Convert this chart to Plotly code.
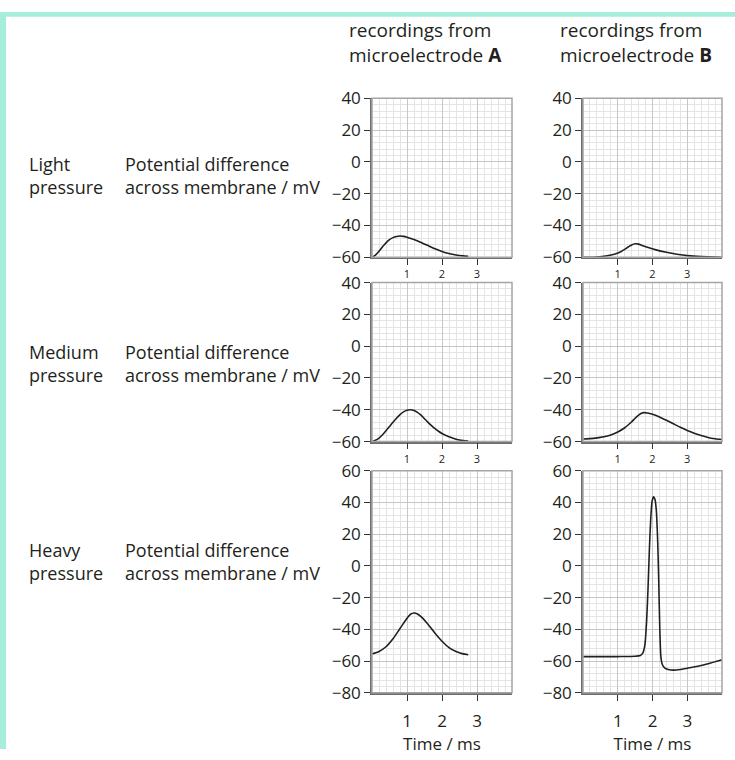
import plotly.graph_objects as go

W, H = 735, 760

# ---- data ----
a1_x = [0, 0.1, 0.2, 0.3, 0.4, 0.5, 0.6, 0.7, 0.8, 0.9, 1.0, 1.2, 1.4, 1.6, 1.8, 2.0, 2.2, 2.4, 2.6, 2.75]
a1_y = [-60, -58.6, -56.2, -53.4, -50.9, -48.9, -47.6, -46.9, -46.6, -46.8, -47.3, -48.8, -50.6, -52.6, -54.6, -56.3, -57.6, -58.5, -59.1, -59.4]

b1_x = [0, 0.4, 0.7, 0.9, 1.1, 1.3, 1.4, 1.5, 1.6, 1.7, 1.9, 2.1, 2.4, 2.7, 3.0, 3.4, 4.0]
b1_y = [-60, -59.8, -59, -58, -56.3, -53.5, -52.2, -51.5, -51.7, -52.5, -54.0, -55.3, -56.8, -58.0, -58.9, -59.5, -59.9]

a2_x = [0, 0.1, 0.2, 0.3, 0.4, 0.5, 0.6, 0.7, 0.8, 0.9, 1.0, 1.1, 1.2, 1.3, 1.4, 1.5, 1.6, 1.7, 1.8, 1.9, 2.0, 2.2, 2.4, 2.6, 2.75]
a2_y = [-60, -59.2, -57.8, -55.7, -53.2, -50.5, -47.8, -45.3, -43.0, -41.3, -40.3, -40.0, -40.4, -41.6, -43.4, -45.6, -47.9, -50.0, -51.9, -53.5, -54.9, -57.0, -58.5, -59.4, -59.7]

b2_x = [0, 0.3, 0.6, 0.8, 1.0, 1.2, 1.4, 1.5, 1.6, 1.7, 1.75, 1.85, 2.0, 2.2, 2.4, 2.6, 2.8, 3.0, 3.2, 3.4, 3.6, 3.8, 4.0]
b2_y = [-58.4, -58.0, -57.0, -55.8, -54.0, -51.3, -47.5, -45.3, -43.3, -42.0, -41.8, -42.0, -42.8, -44.5, -46.6, -48.8, -51.0, -53.0, -54.7, -56.2, -57.4, -58.2, -58.7]

a3_x = [0, 0.2, 0.4, 0.6, 0.8, 1.0, 1.1, 1.2, 1.3, 1.4, 1.6, 1.8, 2.0, 2.2, 2.4, 2.6, 2.75]
a3_y = [-55.5, -54.0, -51.0, -46.0, -39.5, -33.0, -30.5, -29.7, -30.3, -32.0, -36.8, -42.5, -47.5, -51.5, -54.0, -55.5, -56.0]

b3_x = [0, 1.0, 1.5, 1.65, 1.72, 1.78, 1.83, 1.87, 1.91, 1.95, 1.99, 2.03, 2.07, 2.11, 2.15, 2.18, 2.21, 2.24, 2.28, 2.35, 2.45, 2.6, 2.8, 3.0, 3.3, 3.6, 4.0]
b3_y = [-57.2, -57.2, -57.0, -56.5, -55, -50, -35, -15, 10, 30, 41, 43.5, 42, 35, 15, -10, -40, -57, -62, -64.3, -65.3, -65.7, -65.3, -64.5, -63.3, -61.7, -59.2]

x_ticks = [1, 2, 3]
y_ticks_small = [-60, -40, -20, 0, 20, 40]
y_ticks_large = [-80, -60, -40, -20, 0, 20, 40, 60]
row_names = ["Light<br>pressure", "Medium<br>pressure", "Heavy<br>pressure"]
ylab = "Potential difference<br>across membrane / mV"
headers = ["recordings from<br>microelectrode <b>A</b>", "recordings from<br>microelectrode <b>B</b>"]

series = [(a1_x, a1_y), (b1_x, b1_y), (a2_x, a2_y), (b2_x, b2_y), (a3_x, a3_y), (b3_x, b3_y)]

# ---- layout geometry (pixels) ----
cols = [(372, 512), (583, 722)]
rows = [(89, 253, [-60, 40]), (279, 443, [-60, 40]), (473, 702, [-80, 60])]

FONT = "Open Sans"
TXT = "#231f20"

def px2x(p):
    return p / W

def px2y(p):
    return 1 - p / H

fig = go.Figure()
layout = {}
shapes = []
ann = []

k = 0
for r, (yt, yb, yr) in enumerate(rows):
    for c, (xl, xr) in enumerate(cols):
        k += 1
        xs, ys = series[k - 1]
        xa = "x" if k == 1 else f"x{k}"
        ya = "y" if k == 1 else f"y{k}"
        fig.add_trace(go.Scatter(x=xs, y=ys, xaxis=xa, yaxis=ya, mode="lines",
                                 line=dict(color="#231f20", width=1.6, shape="spline", smoothing=0.6),
                                 showlegend=False, hoverinfo="skip"))
        last = (r == 2)
        xkey = "xaxis" if k == 1 else f"xaxis{k}"
        ykey = "yaxis" if k == 1 else f"yaxis{k}"
        layout[xkey] = dict(
            domain=[px2x(xl), px2x(xr)], anchor=ya, range=[0, 4],
            tickmode="array", tickvals=x_ticks, ticktext=[str(v) for v in x_ticks],
            ticks="outside", ticklen=6, tickwidth=1.2, tickcolor="#333",
            ticklabelstandoff=6 if last else 0,
            tickfont=dict(family=FONT, size=17 if last else 11, color=TXT),
            showgrid=True, gridcolor="#c6c6c6", gridwidth=1.2,
            minor=dict(tickmode="linear", tick0=0, dtick=0.2, showgrid=True, gridcolor="#e4e4e4", gridwidth=1, ticks=""),
            showline=True, linecolor="#6e6e6e", linewidth=1.5,
            zeroline=False, fixedrange=True,
            title=dict(text="Time / ms", font=dict(family=FONT, size=17, color=TXT), standoff=0) if last else None,
        )
        yt_vals = y_ticks_large if last else y_ticks_small
        layout[ykey] = dict(
            domain=[px2y(yb), px2y(yt)], anchor=xa, range=yr,
            tickmode="array", tickvals=yt_vals,
            ticks="outside", ticklen=6, tickwidth=1.2, tickcolor="#333",
            tickfont=dict(family=FONT, size=17, color=TXT),
            showgrid=True, gridcolor="#c6c6c6", gridwidth=1.2,
            minor=dict(tickmode="linear", tick0=0, dtick=4, showgrid=True, gridcolor="#e4e4e4", gridwidth=1, ticks=""),
            showline=True, linecolor="#6e6e6e", linewidth=1.5,
            zeroline=False, fixedrange=True,
        )
        shapes.append(dict(type="rect", xref="paper", yref="paper",
                           x0=px2x(xl), x1=px2x(xr), y0=px2y(yb), y1=px2y(yt),
                           line=dict(color="#a5a5a5", width=1.5), layer="above"))

# row labels
row_centers = [169, 362, 567]
for name, cy in zip(row_names, row_centers):
    for txt, x0 in [(name, 27), (ylab, 123)]:
        ann.append(dict(text=txt, x=px2x(x0), y=px2y(cy), xref="paper", yref="paper",
                        xanchor="left", yanchor="middle", align="left", showarrow=False,
                        font=dict(family=FONT, size=18, color=TXT)))

# column headers
for txt, x0 in zip(headers, [347, 558]):
    ann.append(dict(text=txt, x=px2x(x0), y=px2y(31), xref="paper", yref="paper",
                    xanchor="left", yanchor="middle", align="left", showarrow=False,
                    font=dict(family=FONT, size=19, color=TXT)))

# teal frame on left and top
shapes.append(dict(type="rect", xref="paper", yref="paper", x0=0, x1=px2x(6), y0=0, y1=1,
                   fillcolor="#a6eed9", line=dict(width=0), layer="below"))
shapes.append(dict(type="rect", xref="paper", yref="paper", x0=0, x1=1, y0=px2y(5), y1=1,
                   fillcolor="#a6eed9", line=dict(width=0), layer="below"))

fig.update_layout(width=W, height=H, margin=dict(l=0, r=0, t=0, b=0),
                  paper_bgcolor="white", plot_bgcolor="white",
                  shapes=shapes, annotations=ann, **layout)

fig.write_html("out.html", config={"displayModeBar": False},
               post_script="document.body.style.margin='0px';document.body.style.overflow='hidden';")
